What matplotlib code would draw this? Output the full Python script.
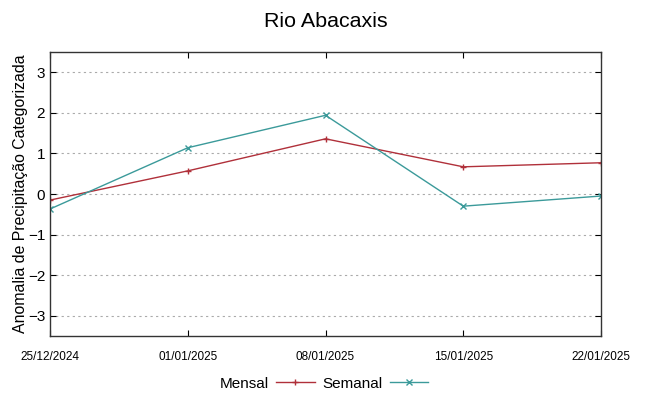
import matplotlib
matplotlib.use('Agg')
import matplotlib.pyplot as plt

plt.rcParams['font.family'] = ['Liberation Sans', 'DejaVu Sans']

# dados
datas = ['25/12/2024', '01/01/2025', '08/01/2025', '15/01/2025', '22/01/2025']
mensal = [-0.15, 0.57, 1.36, 0.67, 0.77]
semanal = [-0.37, 1.14, 1.94, -0.30, -0.05]

x = list(range(len(datas)))

fig = plt.figure(figsize=(6.48, 3.96), dpi=100)
ax = fig.add_axes([0.0772, 0.1515, 0.8503, 0.7172])

ax.plot(x, mensal, color='#b0303a', lw=1.0, marker='+', ms=5, mew=1.0, label='Mensal')
ax.plot(x, semanal, color='#3b9a9a', lw=1.0, marker='x', ms=5, mew=1.0, label='Semanal')

ax.set_xlim(0, len(datas) - 1)
ax.set_ylim(-3.5, 3.5)
ax.set_xticks(x)
ax.set_xticklabels(datas, fontsize=8.5)
ax.set_yticks([-3, -2, -1, 0, 1, 2, 3])
ax.tick_params(axis='y', labelsize=11, direction='in', right=True, length=4)
ax.tick_params(axis='x', direction='in', top=True, length=4, pad=11)
ax.yaxis.grid(True, linestyle=(0, (2, 3)), color='#aaaaaa', lw=0.8)
for s in ax.spines.values():
    s.set_color('#333333')
    s.set_linewidth(1.0)

ax.set_ylabel('Anomalia de Precipitação Categorizada', fontsize=11.4, labelpad=0)
ax.set_title('Rio Abacaxis', fontsize=15.4, pad=18)

ax.legend(loc='upper center', bbox_to_anchor=(0.497, -0.095), ncol=2, frameon=False,
          markerfirst=False, fontsize=11, handlelength=2.5, columnspacing=0.5,
          handletextpad=0.5)

fig.savefig('out.png', dpi=100)
